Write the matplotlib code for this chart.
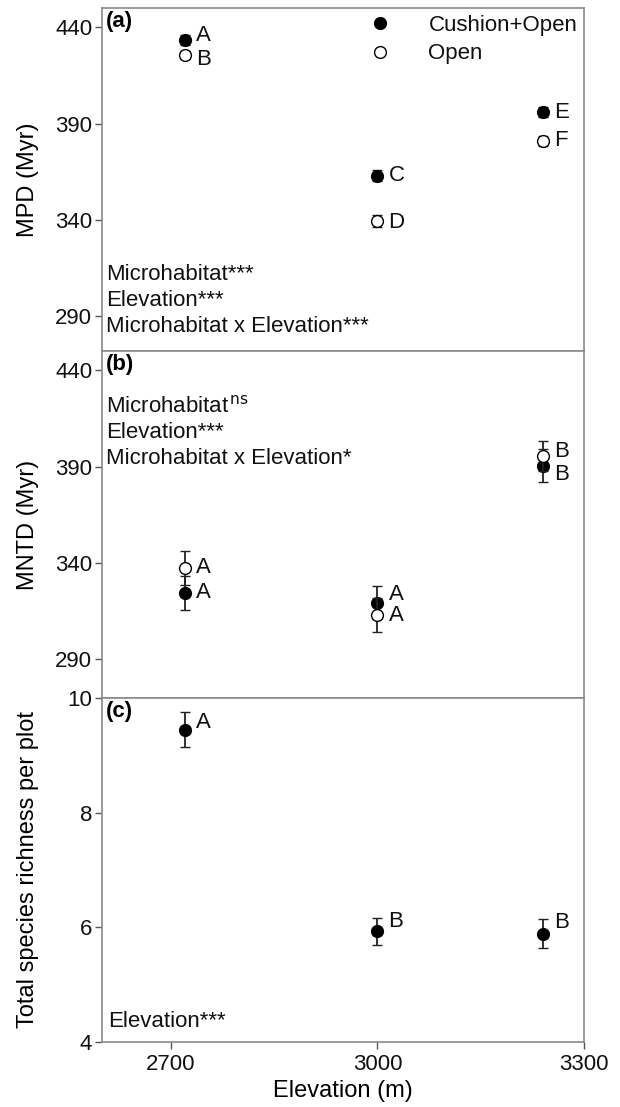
import matplotlib
matplotlib.use("Agg")
import matplotlib.pyplot as plt
import numpy as np
from matplotlib.lines import Line2D

plt.rcParams['font.family'] = ['Liberation Sans', 'DejaVu Sans']

elev = [2720, 3000, 3240]

# (a) MPD
mpd_cush = [433.5, 363.0, 396.0]
mpd_cush_err = [2.5, 3.0, 2.5]
mpd_open = [425.5, 339.5, 381.0]
mpd_open_err = [2.0, 3.0, 2.5]
mpd_cush_lab = ['A', 'C', 'E']
mpd_open_lab = ['B', 'D', 'F']

# (b) MNTD
mntd_cush = [324.5, 319.5, 390.5]
mntd_cush_err = [9.0, 8.5, 8.5]
mntd_open = [337.5, 313.0, 395.5]
mntd_open_err = [9.0, 9.0, 8.0]
mntd_cush_lab = ['A', 'A', 'B']
mntd_open_lab = ['A', 'A', 'B']

# (c) richness
rich = [9.45, 5.93, 5.89]
rich_err = [0.31, 0.24, 0.25]
rich_lab = ['A', 'B', 'B']

W, H = 620, 1107
fig = plt.figure(figsize=(W/100, H/100), dpi=100)

left = 102 / W
width = (584 - 102) / W
def ax_at(top_px, bot_px):
    return fig.add_axes([left, 1 - bot_px / H, width, (bot_px - top_px) / H])

axa = ax_at(8, 351)
axb = ax_at(351, 698)
axc = ax_at(698, 1042)

FS = 16
spine_c = '#8a8a8a'
ms = 8.5

for ax in (axa, axb, axc):
    ax.set_xlim(2600, 3300)
    for s in ax.spines.values():
        s.set_color(spine_c)
        s.set_linewidth(1.2)
    ax.tick_params(axis='y', direction='out', length=5, width=1, color='#555555',
                   labelsize=FS, pad=2, labelcolor='#111111')
    ax.tick_params(axis='x', direction='out', length=5, width=1, color='#555555',
                   labelsize=FS, pad=4, labelcolor='#111111')

def draw(ax, x, y, e, filled, labs, dys):
    ax.errorbar(x, y, yerr=e, fmt='o', ms=ms, mfc='black' if filled else 'white',
                mec='black', mew=1.0, ecolor='#222222', elinewidth=1.3, capsize=3.8,
                capthick=1.3, zorder=3 if filled else 4)
    for xi, yi, lab, dy in zip(x, y, labs, dys):
        ax.annotate(lab, (xi, yi), xytext=(8, dy), textcoords='offset points',
                    ha='left', va='center', fontsize=FS, color='#111111')

# (a)
draw(axa, elev, mpd_cush, mpd_cush_err, True, mpd_cush_lab, [3, 0, 0])
draw(axa, elev, mpd_open, mpd_open_err, False, mpd_open_lab, [-3, -1, 0])
axa.set_ylim(272, 450)
axa.set_yticks([290, 340, 390, 440])
axa.set_xticks([])
axa.set_ylabel('MPD (Myr)', fontsize=17)
axa.text(0.008, 0.99, '(a)', transform=axa.transAxes, fontsize=FS, fontweight='bold',
         ha='left', va='top')
for i, t in enumerate(['Microhabitat***', 'Elevation***', 'Microhabitat x Elevation***']):
    axa.text(0.008, 0.222 - i * 0.0758, t, transform=axa.transAxes, fontsize=FS,
             ha='left', va='center', color='#111111')
handles = [Line2D([], [], ls='none', marker='o', ms=ms, mfc='black', mec='black'),
           Line2D([], [], ls='none', marker='o', ms=ms, mfc='white', mec='black')]
axa.legend(handles, ['Cushion+Open', 'Open'], loc='upper right', frameon=False,
           fontsize=FS, handletextpad=1.2, borderaxespad=0.15, labelspacing=0.35,
           borderpad=0.15, labelcolor='#111111')

# (b)
draw(axb, elev, mntd_cush, mntd_cush_err, True, mntd_cush_lab, [0, 6, -6])
draw(axb, elev, mntd_open, mntd_open_err, False, mntd_open_lab, [0, 0, 3])
axb.set_ylim(270, 450)
axb.set_yticks([290, 340, 390, 440])
axb.set_xticks([])
axb.set_ylabel('MNTD (Myr)', fontsize=17)
axb.text(0.008, 0.99, '(b)', transform=axb.transAxes, fontsize=FS, fontweight='bold',
         ha='left', va='top')
for i, t in enumerate(['Microhabitat$^{\\,\\mathrm{ns}}$', 'Elevation***',
                       'Microhabitat x Elevation*']):
    axb.text(0.008, 0.84 - i * 0.075, t, transform=axb.transAxes, fontsize=FS,
             ha='left', va='center', color='#111111')

# (c)
draw(axc, elev, rich, rich_err, True, rich_lab, [5, 7, 8])
axc.set_ylim(4, 10)
axc.set_yticks([4, 6, 8, 10])
axc.set_xticks([2700, 3000, 3300])
axc.set_ylabel('Total species richness per plot', fontsize=17)
axc.set_xlabel('Elevation (m)', fontsize=17, labelpad=3)
axc.text(0.008, 0.99, '(c)', transform=axc.transAxes, fontsize=FS, fontweight='bold',
         ha='left', va='top')
axc.text(0.012, 0.06, 'Elevation***', transform=axc.transAxes, fontsize=FS,
         ha='left', va='center', color='#111111')

for ax in (axa, axb, axc):
    ax.yaxis.set_label_coords(-0.13, 0.5)

fig.savefig('out.png', dpi=100)
